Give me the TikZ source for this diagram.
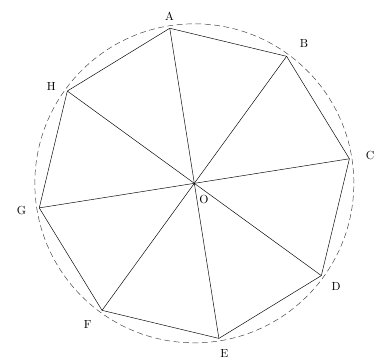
\documentclass[tikz,border=0pt]{standalone}
\begin{document}
\begin{tikzpicture}
        \tikzstyle{vlabel}=[inner sep=1pt];
        \tikzstyle{rim}=[dash pattern=on 5pt off 3pt, black!75];

        \useasboundingbox (-5.83,-5.27) rectangle (5.75,5.50);

        \coordinate (O) at (0,0);
        \coordinate (A) at (99:4.71);
        \coordinate (B) at (54:4.71);
        \coordinate (C) at (9:4.71);
        \coordinate (D) at (-36:4.71);
        \coordinate (E) at (-81:4.71);
        \coordinate (F) at (-126:4.71);
        \coordinate (G) at (-171:4.71);
        \coordinate (H) at (144:4.71);

        \node[vlabel] (lA) at (98.5:5.06) {A};
        \node[vlabel] (lB) at (52:5.34) {B};
        \node[vlabel] (lC) at (9:5.34) {C};
        \node[vlabel] (lD) at (-36:5.26) {D};
        \node[vlabel] (lE) at (-80:5.18) {E};
        \node[vlabel] (lF) at (-127:5.31) {F};
        \node[vlabel] (lG) at (-171:5.25) {G};
        \node[vlabel] (lH) at (146:5.18) {H};
        \node[vlabel] (lO) at (0.29,-0.48) {O};

        \draw[rim] (O) circle (4.785);
        \draw (A) -- (B) -- (C) -- (D) -- (E) -- (F) -- (G) -- (H) -- cycle;
        \draw (A) -- (E);
        \draw (B) -- (F);
        \draw (C) -- (G);
        \draw (D) -- (H);
\end{tikzpicture}
\end{document}
